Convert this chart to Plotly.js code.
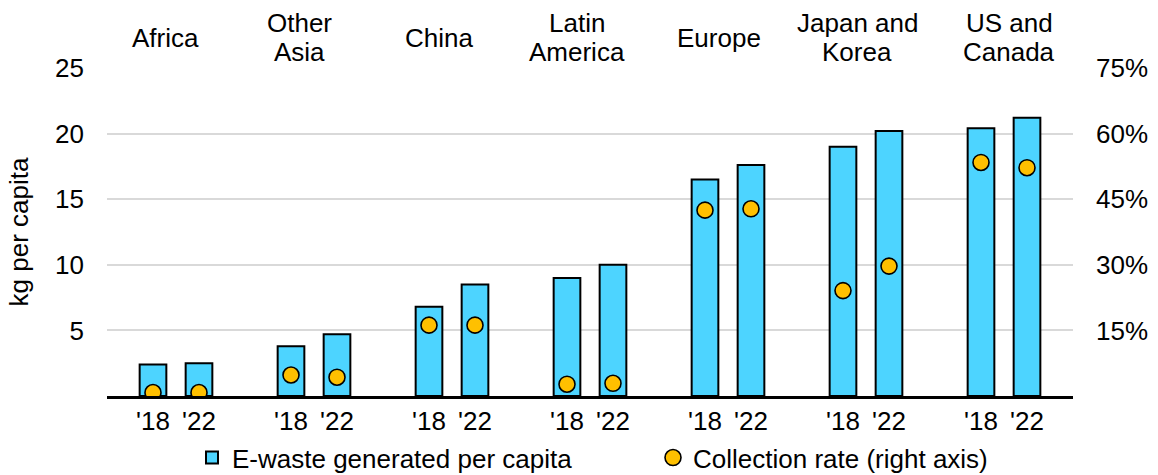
<!DOCTYPE html>
<html>
<head>
<meta charset="utf-8">
<script src="https://cdn.plot.ly/plotly-3.0.1.min.js"></script>
<style>html,body{margin:0;padding:0;background:#fff;}#chart{width:1158px;height:475px;}</style>
</head>
<body>
<div id="chart"></div>
<script>
const regions = ['Africa', 'Other<br>Asia', 'China', 'Latin<br>America', 'Europe', 'Japan and<br>Korea', 'US and<br>Canada'];
const years = ["'18", "'22"];
const ewaste18 = [2.4, 3.8, 6.8, 9.0, 16.5, 19.0, 20.4];
const ewaste22 = [2.5, 4.7, 8.5, 10.0, 17.6, 20.2, 21.2];
const rate18 = [0.8, 4.8, 16.2, 2.7, 42.5, 24.1, 53.4];
const rate22 = [0.8, 4.3, 16.2, 2.9, 42.8, 29.7, 52.2];
const leftTicks = [5, 10, 15, 20, 25];
const rightTicks = [15, 30, 45, 60, 75];

// layout nudges for the region headers (px)
const labelNudge = [-11, -15, -13, -13, -9, -9, 5];

const xs = [], ys = [], rs = [], xlab = [];
regions.forEach((r, i) => {
  [ewaste18[i], ewaste22[i]].forEach((v, j) => {
    xs.push(i * 3 + j + 1);
    ys.push(v);
    rs.push(j === 0 ? rate18[i] : rate22[i]);
    xlab.push(years[j]);
  });
});
const groupCenters = regions.map((r, i) => i * 3 + 1.5);

const FONT = 'Liberation Sans, Arial, sans-serif';
const FS = 26;

const traces = [
  {
    type: 'bar', x: xs, y: ys, width: 0.58,
    name: 'E-waste generated per capita',
    marker: {color: '#4dd4ff', line: {color: '#000', width: 2}},
    hoverinfo: 'skip'
  },
  {
    type: 'scatter', mode: 'markers', x: xs, y: rs, yaxis: 'y2',
    name: 'Collection rate (right axis)',
    marker: {color: '#ffc000', size: 16, line: {color: '#000', width: 1.6}},
    hoverinfo: 'skip'
  }
];

const annotations = [];
regions.forEach((r, i) => {
  const lines = r.split('<br>');
  lines.forEach((ln, k) => {
    const off = (k - (lines.length - 1) / 2) * 29;
    annotations.push({
      x: groupCenters[i], xref: 'x', y: 1.0915, yref: 'paper',
      xshift: labelNudge[i], yshift: -off,
      text: ln, showarrow: false, xanchor: 'center', yanchor: 'middle',
      font: {family: FONT, size: FS, color: '#000'}
    });
  });
});

const layout = {
  width: 1158, height: 475,
  margin: {l: 107, r: 85, t: 68, b: 79, autoexpand: false},
  paper_bgcolor: '#fff', plot_bgcolor: '#fff',
  font: {family: FONT, size: FS, color: '#000'},
  showlegend: true,
  legend: {
    orientation: 'h', x: 0.088, xanchor: 'left', y: -0.188, yanchor: 'middle',
    entrywidth: 416, entrywidthmode: 'pixels',
    font: {family: FONT, size: FS, color: '#000'},
    bgcolor: 'rgba(0,0,0,0)'
  },
  xaxis: {
    range: [0, 21], tickvals: xs, ticktext: xlab, showgrid: false,
    zeroline: false, showline: true, linecolor: '#000', linewidth: 2.5,
    ticks: '', ticklabelstandoff: 0, fixedrange: true, automargin: false
  },
  yaxis: {
    range: [0, 25], tickvals: leftTicks, showgrid: true, gridcolor: '#d9d9d9', gridwidth: 2,
    zeroline: false, showline: false, ticks: '', ticklabelstandoff: 22,
    title: {text: 'kg per capita', standoff: 18, font: {family: FONT, size: FS, color: '#000'}},
    automargin: false
  },
  yaxis2: {
    range: [0, 75], tickvals: rightTicks, ticktext: rightTicks.map(v => v + '%'),
    overlaying: 'y', side: 'right', showgrid: false, zeroline: false, showline: false,
    ticks: '', ticklabelstandoff: 22, automargin: false
  },
  annotations: annotations,
  bargap: 0
};

Plotly.newPlot('chart', traces, layout, {displayModeBar: false, staticPlot: true});
</script>
</body>
</html>
